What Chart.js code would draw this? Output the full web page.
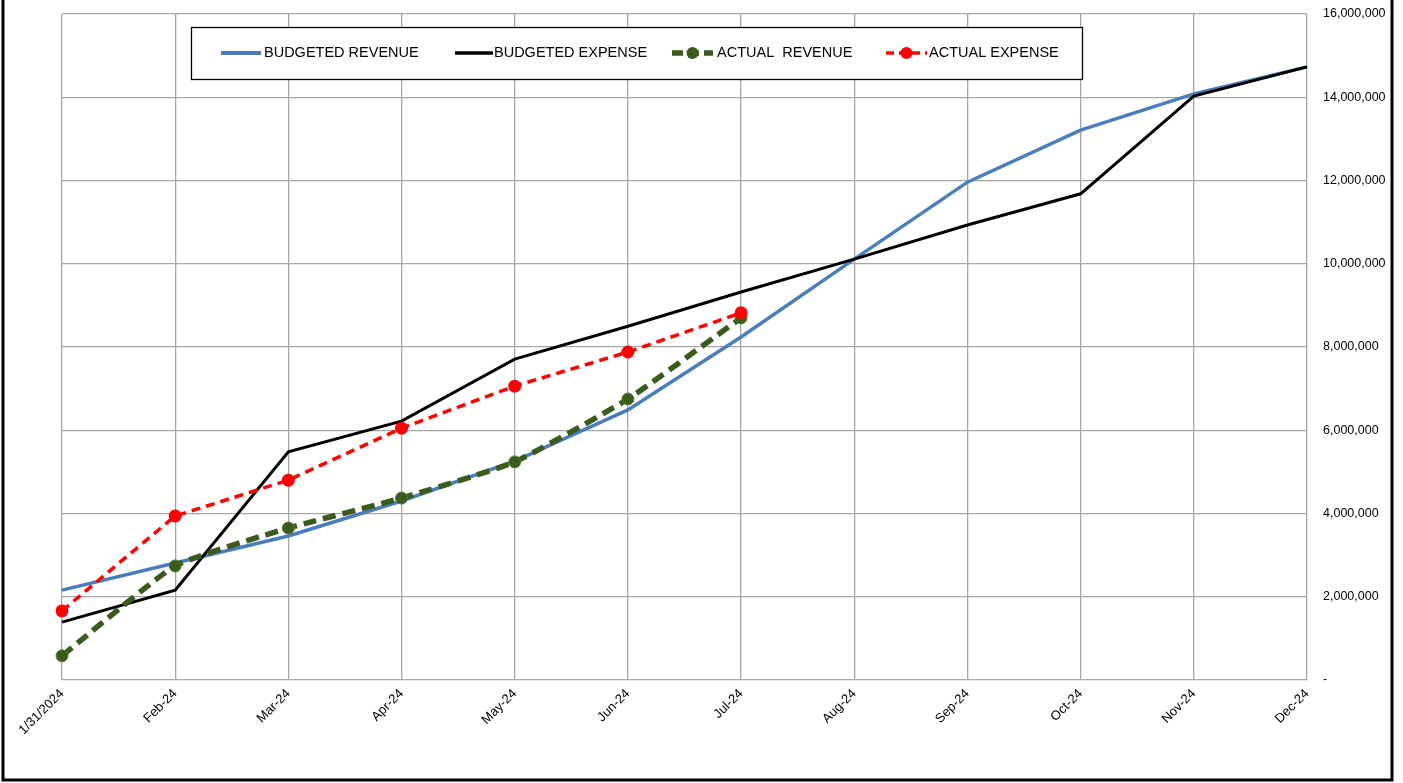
<!DOCTYPE html>
<html>
<head>
<meta charset="utf-8">
<title>Budget vs Actual 2024</title>
<script src="https://cdn.jsdelivr.net/npm/chart.js@4.4.1/dist/chart.umd.min.js"></script>
<style>
  html, body { margin: 0; padding: 0; background: #ffffff; }
  canvas { display: block; }
</style>
</head>
<body>
<canvas id="chart" width="1403" height="783"></canvas>
<script>
// Month labels along the bottom axis
const categories = ['1/31/2024', 'Feb-24', 'Mar-24', 'Apr-24', 'May-24', 'Jun-24',
                    'Jul-24', 'Aug-24', 'Sep-24', 'Oct-24', 'Nov-24', 'Dec-24'];

// Cumulative budget figures for the year
const budgetedRevenue = [2160000, 2810000, 3460000, 4300000, 5260000, 6490000,
                         8240000, 10110000, 11960000, 13210000, 14080000, 14730000];
const budgetedExpense = [1390000, 2160000, 5480000, 6220000, 7710000, 8500000,
                         9320000, 10110000, 10930000, 11680000, 14030000, 14730000];

// Cumulative actuals reported so far (Jan - Jul)
const actualRevenue = [580000, 2740000, 3650000, 4370000, 5240000, 6750000, 8700000];
const actualExpense = [1660000, 3940000, 4800000, 6050000, 7060000, 7880000, 8820000];

// Value axis ticks
const yTicks = [0, 2000000, 4000000, 6000000, 8000000, 10000000, 12000000, 14000000, 16000000];

const seriesNames = ['BUDGETED REVENUE', 'BUDGETED EXPENSE', 'ACTUAL  REVENUE', 'ACTUAL EXPENSE'];

const BLUE = '#4a7ebb';
const BLACK = '#000000';
const GREEN = '#3a5b1c';
const RED = '#ff0000';
const GRID = '#a6a6a6';
const TEXT_FONT = '"Liberation Sans", Arial, sans-serif';

// Boxed legend across the top of the plot, plus the frame around the chart
const boxedLegend = {
  id: 'boxedLegend',
  afterDraw(chart) {
    const ctx = chart.ctx;
    ctx.save();

    // legend frame
    ctx.fillStyle = '#ffffff';
    ctx.fillRect(191, 27, 892, 53);
    ctx.strokeStyle = '#000000';
    ctx.lineWidth = 1.3;
    ctx.strokeRect(191.5, 27.5, 891, 52);

    const cy = 53;
    const items = [
      { x: 221, w: 40, tx: 264, color: BLUE, width: 4, dash: [], marker: 0 },
      { x: 455, w: 38, tx: 494, color: BLACK, width: 3.5, dash: [], marker: 0 },
      { x: 672, w: 41, tx: 717, color: GREEN, width: 5.5, dash: [11, 5], marker: 6 },
      { x: 886, w: 41, tx: 929, color: RED, width: 3.5, dash: [8, 5], marker: 6 }
    ];
    items.forEach((it, i) => {
      const ds = chart.data.datasets.find(d => d.label === seriesNames[i]);
      ctx.strokeStyle = it.color;
      ctx.lineWidth = it.width;
      ctx.setLineDash(it.dash);
      ctx.beginPath();
      ctx.moveTo(it.x, cy);
      ctx.lineTo(it.x + it.w, cy);
      ctx.stroke();
      ctx.setLineDash([]);
      if (it.marker) {
        ctx.fillStyle = it.color;
        ctx.beginPath();
        ctx.arc(it.x + it.w / 2, cy, it.marker, 0, Math.PI * 2);
        ctx.fill();
      }
      ctx.fillStyle = '#000000';
      ctx.font = '14.5px ' + TEXT_FONT;
      ctx.textBaseline = 'middle';
      ctx.textAlign = 'left';
      ctx.fillText(ds ? ds.label : seriesNames[i], it.tx, cy);
    });

    // outer frame
    ctx.strokeStyle = '#000000';
    ctx.lineWidth = 3;
    ctx.beginPath();
    ctx.moveTo(3, -5);
    ctx.lineTo(3, 780);
    ctx.lineTo(1392, 780);
    ctx.lineTo(1392, -5);
    ctx.stroke();
    ctx.restore();
  }
};

const ctx = document.getElementById('chart').getContext('2d');
new Chart(ctx, {
  type: 'line',
  data: {
    labels: categories,
    datasets: [
      {
        label: seriesNames[0],
        data: budgetedRevenue,
        borderColor: BLUE,
        backgroundColor: BLUE,
        borderWidth: 3.5,
        pointRadius: 0,
        tension: 0,
        order: 4
      },
      {
        label: seriesNames[1],
        data: budgetedExpense,
        borderColor: BLACK,
        backgroundColor: BLACK,
        borderWidth: 3,
        pointRadius: 0,
        tension: 0,
        order: 3
      },
      {
        label: seriesNames[2],
        data: actualRevenue,
        borderColor: GREEN,
        backgroundColor: GREEN,
        borderWidth: 5.5,
        borderDash: [13, 7],
        pointRadius: 6,
        pointBackgroundColor: GREEN,
        pointBorderColor: '#557a30',
        pointBorderWidth: 1,
        tension: 0.15,
        order: 2
      },
      {
        label: seriesNames[3],
        data: actualExpense,
        borderColor: RED,
        backgroundColor: RED,
        borderWidth: 3.5,
        borderDash: [9, 6],
        pointRadius: 6.5,
        pointBackgroundColor: RED,
        pointBorderColor: RED,
        pointBorderWidth: 0,
        tension: 0,
        order: 1
      }
    ]
  },
  options: {
    responsive: false,
    animation: false,
    devicePixelRatio: 1,
    layout: { padding: { left: 62, top: 14, right: 0, bottom: 0 } },
    plugins: {
      legend: { display: false },
      tooltip: { enabled: false }
    },
    scales: {
      x: {
        offset: false,
        grid: { color: GRID, lineWidth: 1.3, drawTicks: false },
        border: { display: false },
        ticks: {
          color: '#000000',
          font: { family: TEXT_FONT, size: 13 },
          maxRotation: 45,
          minRotation: 45,
          autoSkip: false,
          padding: 6
        },
        afterFit(scale) { scale.height = 103; }
      },
      y: {
        position: 'right',
        min: 0,
        max: 16000000,
        grid: { color: GRID, lineWidth: 1.3, drawTicks: false },
        border: { display: false },
        afterBuildTicks(scale) {
          scale.ticks = yTicks.map(v => ({ value: v }));
        },
        ticks: {
          color: '#000000',
          font: { family: TEXT_FONT, size: 12.5 },
          padding: 16,
          callback(v) { return v === 0 ? '-' : Number(v).toLocaleString('en-US'); }
        },
        afterFit(scale) {
          scale.width = 96;
          scale.paddingTop = 0;
          scale.paddingBottom = 0;
        }
      }
    }
  },
  plugins: [boxedLegend]
});
</script>
</body>
</html>
